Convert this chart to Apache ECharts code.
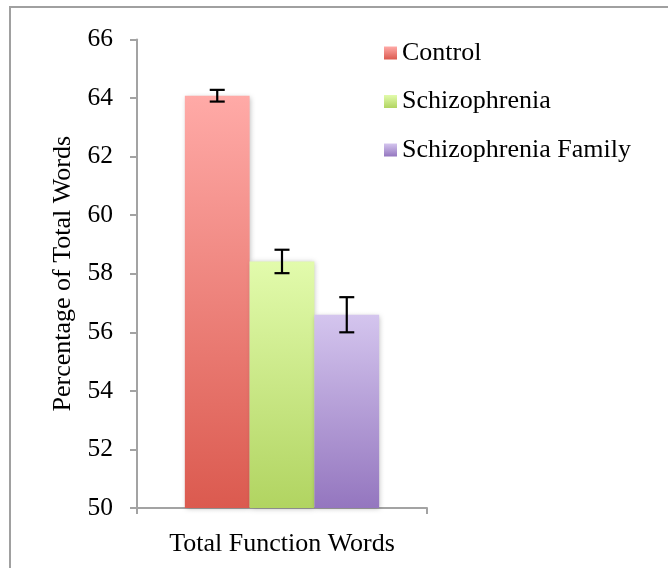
<!DOCTYPE html>
<html>
<head>
<meta charset="utf-8">
<style>
  html, body { margin: 0; padding: 0; background: #ffffff; }
  #chart { width: 668px; height: 568px; }
</style>
<script src="https://cdn.jsdelivr.net/npm/echarts@6/dist/echarts.min.js"></script>
</head>
<body>
<div id="chart"></div>
<script>
// ---- data ----
const categories = ['Total Function Words'];
const groupNames = ['Control', 'Schizophrenia', 'Schizophrenia Family'];
const means = [64.08, 58.42, 56.6];
const errors = [0.2, 0.4, 0.6];
const yMin = 50, yMax = 66, yStep = 2;
const yTitle = 'Percentage of Total Words';

// ---- styles ----
const gradients = [
  ['#ffaaa7', '#db5a4f'],
  ['#e2fbac', '#b1d461'],
  ['#d4c5ee', '#9476bf']
];
const FONT = '"Liberation Serif", "Times New Roman", serif';
const AXIS_COLOR = '#a3a3a3';
const CAT_GAP = 0.33;

const chart = echarts.init(document.getElementById('chart'), null, { renderer: 'canvas' });

const barSeries = groupNames.map((name, i) => ({
  name: name,
  type: 'bar',
  barGap: '0%',
  barCategoryGap: (CAT_GAP * 100) + '%',
  data: [means[i]],
  itemStyle: {
    color: new echarts.graphic.LinearGradient(0, 0, 0, 1, [
      { offset: 0, color: gradients[i][0] },
      { offset: 1, color: gradients[i][1] }
    ]),
    shadowBlur: 5,
    shadowColor: 'rgba(0,0,0,0.25)',
    shadowOffsetX: 1,
    shadowOffsetY: 1
  },
  emphasis: { disabled: true },
  z: 2
}));

const errSeries = groupNames.map((name, i) => ({
  name: 'err_' + i,
  type: 'custom',
  data: [[0, means[i] - errors[i], means[i] + errors[i]]],
  encode: { x: 0, y: [1, 2] },
  z: 5,
  renderItem: function (params, api) {
    const band = api.size([1, 0])[0];
    const barW = band * (1 - CAT_GAP) / groupNames.length;
    const center = api.coord([api.value(0), api.value(1)])[0];
    const x = center + (i - (groupNames.length - 1) / 2) * barW;
    const yLow = api.coord([api.value(0), api.value(1)])[1];
    const yHigh = api.coord([api.value(0), api.value(2)])[1];
    const cap = 7.5;
    const style = { stroke: '#000', lineWidth: 2.2, fill: null };
    return {
      type: 'group',
      children: [
        { type: 'line', shape: { x1: x, y1: yLow, x2: x, y2: yHigh }, style: style },
        { type: 'line', shape: { x1: x - cap, y1: yLow, x2: x + cap, y2: yLow }, style: style },
        { type: 'line', shape: { x1: x - cap, y1: yHigh, x2: x + cap, y2: yHigh }, style: style }
      ]
    };
  }
}));

chart.setOption({
  animation: false,
  backgroundColor: '#ffffff',
  graphic: [{
    type: 'rect',
    shape: { x: 10, y: 7, width: 720, height: 620 },
    style: { fill: null, stroke: '#a0a0a0', lineWidth: 2 },
    silent: true,
    z: 0
  }],
  grid: { left: 137, right: 241, top: 39.5, bottom: 60, containLabel: false },
  legend: {
    data: groupNames,
    orient: 'vertical',
    left: 384,
    top: 40,
    padding: 0,
    itemWidth: 13,
    itemHeight: 13,
    itemGap: 22.5,
    icon: 'rect',
    selectedMode: false,
    textStyle: { fontFamily: FONT, fontSize: 26, color: '#000', lineHeight: 26 }
  },
  xAxis: {
    type: 'category',
    data: categories,
    boundaryGap: true,
    axisLine: { lineStyle: { color: AXIS_COLOR, width: 2 } },
    axisTick: { show: true, length: 6, interval: 0, lineStyle: { color: AXIS_COLOR, width: 2 } },
    axisLabel: { fontFamily: FONT, fontSize: 26, color: '#000', margin: 23 }
  },
  yAxis: {
    type: 'value',
    min: yMin,
    max: yMax,
    interval: yStep,
    name: yTitle,
    nameLocation: 'middle',
    nameRotate: 90,
    nameGap: 61,
    nameTextStyle: { fontFamily: FONT, fontSize: 26, color: '#000' },
    axisLine: { show: true, lineStyle: { color: AXIS_COLOR, width: 2 } },
    axisTick: { show: true, length: 7, lineStyle: { color: AXIS_COLOR, width: 2 } },
    splitLine: { show: false },
    axisLabel: { fontFamily: FONT, fontSize: 25.5, color: '#000', margin: 24, padding: [3, 0, 0, 0] }
  },
  series: barSeries.concat(errSeries)
});
</script>
</body>
</html>
